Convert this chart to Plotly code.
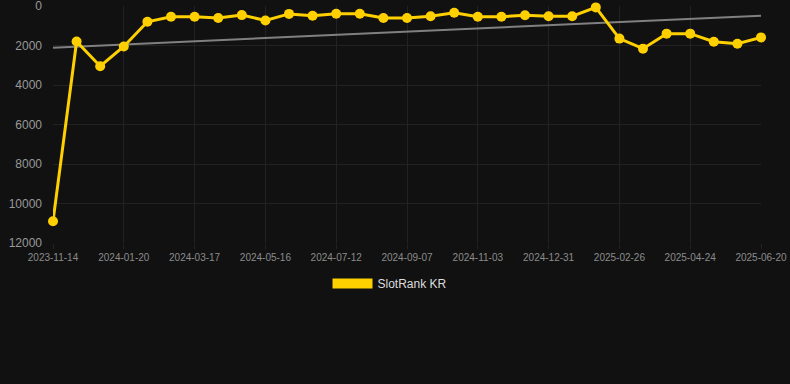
import plotly.graph_objects as go

dates = [
    "2023-11-14", "2023-12-06", "2023-12-29",
    "2024-01-20", "2024-02-08", "2024-02-27",
    "2024-03-17", "2024-04-06", "2024-04-26",
    "2024-05-16", "2024-06-04", "2024-06-23",
    "2024-07-12", "2024-07-31", "2024-08-19",
    "2024-09-07", "2024-09-26", "2024-10-15",
    "2024-11-03", "2024-11-22", "2024-12-12",
    "2024-12-31", "2025-01-19", "2025-02-07",
    "2025-02-26", "2025-03-17", "2025-04-05",
    "2025-04-24", "2025-05-13", "2025-06-01",
    "2025-06-20",
]
rank = [
    10900, 1800, 3050, 2050, 800, 540, 540, 610, 460, 730,
    400, 490, 390, 390, 610, 610, 520, 340, 540, 540,
    470, 520, 520, 70, 1650, 2160, 1400, 1400, 1810, 1910,
    1590,
]
trend_x = [dates[0], dates[-1]]
trend_y = [2110, 490]
tick_labels = dates[::3]
y_ticks = [0, 2000, 4000, 6000, 8000, 10000, 12000]
y_tick_text = [str(v) for v in y_ticks]

gold = "#FFD000"
font = "Liberation Sans, Arial, sans-serif"

fig = go.Figure()
fig.add_trace(go.Scatter(
    x=trend_x, y=trend_y, mode="lines",
    line=dict(color="#808080", width=2),
    showlegend=False, hoverinfo="skip",
))
fig.add_trace(go.Scatter(
    x=dates, y=rank, mode="lines+markers",
    line=dict(color=gold, width=3),
    marker=dict(color=gold, size=10),
    showlegend=False, cliponaxis=False,
))
# legend swatch
fig.add_trace(go.Scatter(
    x=[None], y=[None], mode="lines",
    line=dict(color=gold, width=12),
    name="SlotRank KR", showlegend=True,
))

fig.update_layout(
    width=790, height=384,
    paper_bgcolor="#111111", plot_bgcolor="#111111",
    margin=dict(l=53, r=29, t=6, b=141, autoexpand=False),
    font=dict(family=font, color="#bbbbbb"),
    legend=dict(
        orientation="h", x=0.476, xanchor="center",
        y=-0.11, yanchor="top",
        font=dict(size=12, color="#dddddd"), itemwidth=40,
        bgcolor="rgba(0,0,0,0)",
    ),
    xaxis=dict(
        type="category", categoryorder="array", categoryarray=dates,
        range=[0, 30], tickvals=tick_labels, ticktext=tick_labels,
        tickangle=0,
        showgrid=True, gridcolor="#222222", gridwidth=1,
        zeroline=False, showline=False,
        ticks="outside", ticklen=5, tickcolor="#222222",
        tickfont=dict(size=10, color="#8c8c8c"),
    ),
    yaxis=dict(
        range=[12000, 0], tickvals=y_ticks, ticktext=y_tick_text,
        showgrid=True, gridcolor="#222222", gridwidth=1,
        zeroline=False, showline=False,
        ticks="", ticklabelstandoff=10, ticklabeloverflow="allow",
        tickfont=dict(size=12, color="#999999"),
    ),
)

fig.write_html(
    "out.html",
    config={"displayModeBar": False},
    post_script="document.body.style.margin='0';document.body.style.background='#111111';",
)
